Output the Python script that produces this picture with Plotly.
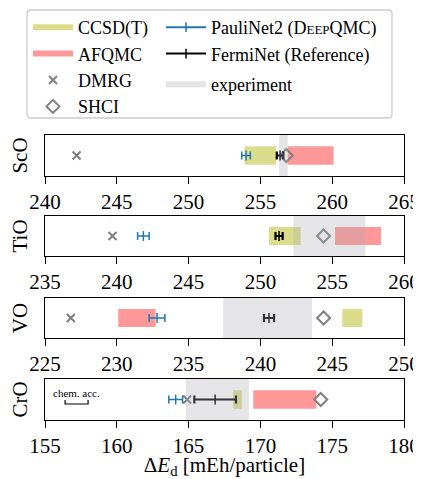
import plotly.graph_objects as go

# ---------------- data ----------------
molecules = ["ScO", "TiO", "VO", "CrO"]
axis_min = [240, 235, 225, 155]
axis_max = [265, 260, 250, 180]
tick_step = 5

ccsd_lo = [253.9, 250.6, 245.7, 168.1]
ccsd_hi = [256.1, 252.8, 247.1, 168.7]
afqmc_lo = [256.9, 255.2, 230.1, 169.5]
afqmc_hi = [260.1, 258.4, 232.7, 173.9]
exp_lo = [256.3, 252.3, 237.4, 164.8]
exp_hi = [256.9, 257.3, 243.6, 169.2]
dmrg = [242.2, 239.7, 226.8, 164.9]
shci = [256.8, 254.4, 244.4, 174.2]
paulinet = [254.0, 241.85, 232.8, 164.1]
paulinet_err = [0.3, 0.4, 0.55, 0.48]
ferminet = [256.37, 251.3, 240.6, 166.85]
ferminet_err = [0.23, 0.25, 0.35, 1.45]
chem_acc_start = 156.4
chem_acc = 1.6

# ---------------- style ----------------
FONT = "Times New Roman, Liberation Serif, Tinos, DejaVu Serif, serif"
BAR_HALF = 0.45
C_CCSD = "rgba(188,189,34,0.52)"
C_AFQMC = "rgba(255,0,0,0.4)"
C_EXP = "rgba(168,170,178,0.3)"
C_BLUE = "#1f77b4"
C_GRAY = "#808080"
OFF = 8                      # page body margin of the browser
W, H = 421 - OFF, 479 - OFF
ML, MR = 45 - OFF, 17
panel_px = [(135, 176), (216, 256), (298, 338), (379, 420)]


def rect(lo, hi, h):
    return [lo, hi, hi, lo, lo], [-h, -h, h, h, -h]


fig = go.Figure()
for i, mol in enumerate(molecules):
    sfx = "" if i == 0 else str(i + 1)
    xa, ya = "x" + sfx, "y" + sfx
    first = i == 0
    xs, ys = rect(ccsd_lo[i], ccsd_hi[i], BAR_HALF)
    fig.add_trace(go.Scatter(x=xs, y=ys, xaxis=xa, yaxis=ya, fill="toself", mode="none",
                             fillcolor=C_CCSD, name="CCSD(T)", legend="legend",
                             legendgroup="ccsd", showlegend=first, hoverinfo="skip"))
    xs, ys = rect(afqmc_lo[i], afqmc_hi[i], BAR_HALF)
    fig.add_trace(go.Scatter(x=xs, y=ys, xaxis=xa, yaxis=ya, fill="toself", mode="none",
                             fillcolor=C_AFQMC, name="AFQMC", legend="legend",
                             legendgroup="afqmc", showlegend=first, hoverinfo="skip"))
    fig.add_trace(go.Scatter(x=[dmrg[i]], y=[0], xaxis=xa, yaxis=ya, mode="markers",
                             marker=dict(symbol="x-thin", size=8, line=dict(width=2, color=C_GRAY), color=C_GRAY),
                             name="DMRG", legend="legend", legendgroup="dmrg", showlegend=first))
    fig.add_trace(go.Scatter(x=[shci[i]], y=[0], xaxis=xa, yaxis=ya, mode="markers",
                             marker=dict(symbol="diamond-open", size=10, line=dict(width=2, color=C_GRAY), color=C_GRAY),
                             name="SHCI", legend="legend", legendgroup="shci", showlegend=first))
    fig.add_trace(go.Scatter(x=[paulinet[i]], y=[0], xaxis=xa, yaxis=ya, mode="lines+markers",
                             line=dict(color=C_BLUE, width=2),
                             marker=dict(symbol="line-ns", size=7, line=dict(width=1.5, color=C_BLUE), color=C_BLUE),
                             error_x=dict(type="data", array=[paulinet_err[i]], color=C_BLUE, thickness=1.5, width=4),
                             name='PauliNet2 (D<span style="font-size:13px">EEP</span>QMC)',
                             legend="legend2", legendgroup="pn", showlegend=first))
    fig.add_trace(go.Scatter(x=[ferminet[i]], y=[0], xaxis=xa, yaxis=ya, mode="lines+markers",
                             line=dict(color="black", width=2),
                             marker=dict(symbol="line-ns", size=7, line=dict(width=1.5, color="black"), color="black"),
                             error_x=dict(type="data", array=[ferminet_err[i]], color="black", thickness=2.2, width=4),
                             name="FermiNet (Reference)", legend="legend2", legendgroup="fn", showlegend=first))
    xs, ys = rect(exp_lo[i], exp_hi[i], 1)
    fig.add_trace(go.Scatter(x=xs, y=ys, xaxis=xa, yaxis=ya, fill="toself", mode="none",
                             fillcolor=C_EXP, name="experiment", legend="legend3",
                             legendgroup="exp", showlegend=first, hoverinfo="skip"))

# chemical accuracy bracket (CrO panel)
fig.add_trace(go.Scatter(x=[chem_acc_start, chem_acc_start, chem_acc_start + chem_acc, chem_acc_start + chem_acc],
                         y=[-0.02, -0.22, -0.22, -0.02], xaxis="x4", yaxis="y4", mode="lines",
                         line=dict(color="black", width=1.2), showlegend=False, hoverinfo="skip"))
fig.add_annotation(x=chem_acc_start + chem_acc / 2, y=0.32, xref="x4", yref="y4", text="chem. acc.",
                   showarrow=False, font=dict(family=FONT, size=11, color="black"))

for i, mol in enumerate(molecules):
    sfx = "" if i == 0 else str(i + 1)
    top, bot = panel_px[i]
    top -= OFF
    bot -= OFF
    xaxis = dict(domain=[0, 1], anchor="y" + sfx, range=[axis_min[i], axis_max[i]],
                 tickvals=list(range(axis_min[i], axis_max[i] + 1, tick_step)),
                 ticks="outside", ticklen=7, tickwidth=1.3, tickcolor="black",
                 showline=True, mirror=True, linecolor="black", linewidth=1.3,
                 showgrid=False, zeroline=False,
                 tickfont=dict(family=FONT, size=21, color="black"))
    if i == len(molecules) - 1:
        xaxis["title"] = dict(text="Δ<i>E</i><sub>d</sub> [mEh/particle]",
                              font=dict(family=FONT, size=21, color="black"), standoff=2)
    yaxis = dict(domain=[1 - bot / H, 1 - top / H], anchor="x" + sfx, range=[-1, 1],
                 showticklabels=False, ticks="", showline=True, mirror=True,
                 linecolor="black", linewidth=1.3, showgrid=False, zeroline=False,
                 title=dict(text=mol, font=dict(family=FONT, size=21, color="black"), standoff=12))
    fig.layout["xaxis" + sfx] = xaxis
    fig.layout["yaxis" + sfx] = yaxis


def px_x(p):
    return (p - OFF - ML) / (W - ML - MR)


def px_y(p):
    return 1 - (p - OFF) / H


bx0, bx1, by0, by1 = px_x(27), px_x(392), px_y(118), px_y(10)
rx, ry = 4 / (W - ML - MR), 4 / H
path = (f"M{bx0+rx},{by1} L{bx1-rx},{by1} Q{bx1},{by1} {bx1},{by1-ry} L{bx1},{by0+ry} "
        f"Q{bx1},{by0} {bx1-rx},{by0} L{bx0+rx},{by0} Q{bx0},{by0} {bx0},{by0+ry} "
        f"L{bx0},{by1-ry} Q{bx0},{by1} {bx0+rx},{by1} Z")
fig.add_shape(type="path", path=path, xref="paper", yref="paper",
              line=dict(color="#cccccc", width=1.3), fillcolor="white", layer="below")

legend_common = dict(bgcolor="rgba(0,0,0,0)", font=dict(family=FONT, size=18, color="black"),
                     borderwidth=0, itemwidth=40, tracegroupgap=0, orientation="v",
                     xanchor="left", yanchor="top")
fig.update_layout(
    width=W, height=H,
    margin=dict(l=ML, r=MR, t=0, b=0),
    paper_bgcolor="white", plot_bgcolor="white",
    font=dict(family=FONT, color="black", size=18),
    legend=dict(x=px_x(28), y=px_y(9), **legend_common),
    legend2=dict(x=px_x(161), y=px_y(9), **legend_common),
    legend3=dict(x=px_x(161), y=px_y(66), **legend_common),
)

fig.write_html("out.html")
